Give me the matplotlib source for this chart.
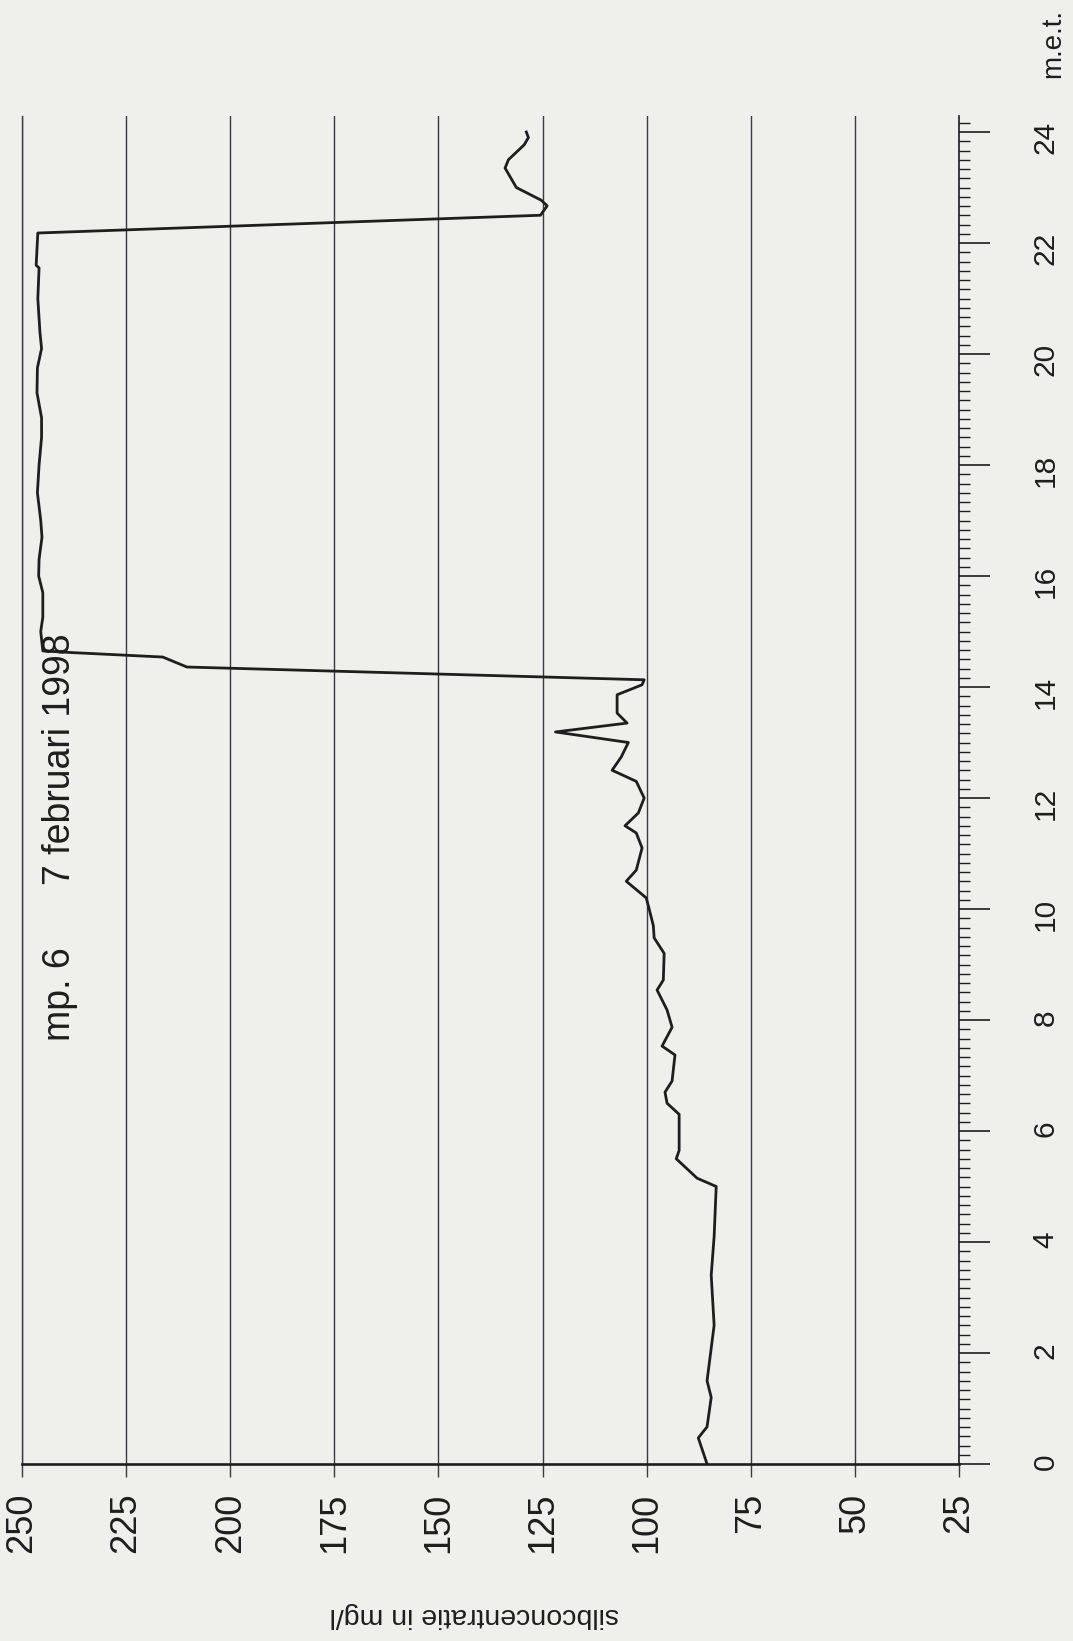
import matplotlib.pyplot as plt
from matplotlib.ticker import MultipleLocator

plt.rcParams['font.family'] = ['Liberation Sans', 'DejaVu Sans']

# tijd in uren (m.e.t.) en silbconcentratie in mg/l
uur = [0.0, 0.47, 0.67, 1.2, 1.5, 2.5, 3.4, 4.1, 5.0, 5.15, 5.5, 5.65, 6.3, 6.5,
       6.7, 6.9, 7.37, 7.53, 7.87, 8.18, 8.54, 8.72, 9.2, 9.48, 9.7, 10.0, 10.2,
       10.5, 10.7, 11.1, 11.37, 11.5, 11.73, 12.0, 12.3, 12.5, 12.74, 13.0, 13.19,
       13.35, 13.53, 13.86, 14.04, 14.13, 14.36, 14.54, 14.62, 14.65, 15.0, 15.26,
       15.7, 16.0, 16.3, 16.7, 17.0, 17.5, 18.0, 18.5, 18.85, 19.3, 19.75, 20.1,
       20.4, 21.0, 21.55, 21.6, 22.18, 22.5, 22.67, 22.77, 23.0, 23.13, 23.35,
       23.5, 23.77, 23.9, 24.0]
conc = [85.5, 87.6, 85.5, 84.5, 85.5, 83.8, 84.5, 83.8, 83.3, 87.9, 92.9, 92.2,
        92.2, 95.1, 95.6, 93.9, 93.2, 96.3, 93.9, 95.1, 97.5, 96.0, 95.8, 98.2,
        98.4, 99.4, 100.1, 104.9, 102.5, 101.1, 102.5, 105.2, 102.0, 100.6, 102.5,
        108.3, 106.1, 104.4, 121.9, 104.7, 107.1, 107.1, 101.1, 100.6, 210.4,
        216.2, 238.0, 245.0, 245.5, 245.0, 245.0, 246.0, 245.9, 245.2, 245.5,
        246.3, 245.9, 245.3, 245.3, 246.4, 246.3, 245.3, 245.7, 246.2, 245.9,
        246.6, 246.2, 125.5, 123.9, 125.3, 131.3, 132.3, 134.0, 133.2, 129.4,
        128.4, 128.9]

conc_ticks = [250, 225, 200, 175, 150, 125, 100, 75, 50, 25]
uur_ticks = list(range(0, 25, 2))

W, H = 1073, 1641
paper = '#efefec'
ink = '#1e1e1e'

fig = plt.figure(figsize=(W / 100, H / 100), dpi=100, facecolor=paper)
ax = fig.add_axes([22 / W, 1 - 1464 / H, (959 - 22) / W, (1464 - 116) / H])
ax.set_facecolor('none')

ax.plot(conc, uur, color=ink, lw=2.0, solid_joinstyle='round', zorder=3)

ax.set_xlim(250, 25)
ax.set_ylim(0, (1464 - 116) / 55.5)

# concentratie-as (onderaan, tekst gedraaid)
ax.set_xticks(conc_ticks)
ax.set_xticklabels([str(v) for v in conc_ticks])
ax.grid(axis='x', color='#3a3a3a', lw=1.0)
ax.tick_params(axis='x', direction='out', length=9, width=1.0, color='#3a3a3a',
               labelsize=26, labelrotation=90, pad=11.5, labelcolor=ink)

# tijd-as (rechts)
ax.yaxis.tick_right()
ax.set_yticks(uur_ticks)
ax.yaxis.set_minor_locator(MultipleLocator(1 / 6))
ax.tick_params(axis='y', which='major', direction='out', length=22.3, width=1.2,
               color=ink, labelsize=21.5, labelrotation=90, pad=30, labelcolor=ink)
ax.tick_params(axis='y', which='minor', direction='out', length=8, width=1.0,
               color=ink)

ax.spines['top'].set_visible(False)
ax.spines['left'].set_color('#3a3a3a')
ax.spines['left'].set_linewidth(1.0)
ax.spines['right'].set_color(ink)
ax.spines['right'].set_linewidth(1.2)
ax.spines['bottom'].set_color(ink)
ax.spines['bottom'].set_linewidth(1.9)

fig.text(60 / W, 1 - 1041 / H, 'mp. 6      7 februari 1998', rotation=90,
         ha='center', va='bottom', fontsize=27, color=ink)
fig.text(474 / W, 1 - 1615 / H, 'silbconcentratie in mg/l', rotation=180,
         ha='center', va='center', fontsize=20.5, color=ink)
fig.text(1053 / W, 1 - 44 / H, 'm.e.t.', rotation=90,
         ha='center', va='center', fontsize=20, color=ink)

fig.savefig('out.png', dpi=100, facecolor=paper)
